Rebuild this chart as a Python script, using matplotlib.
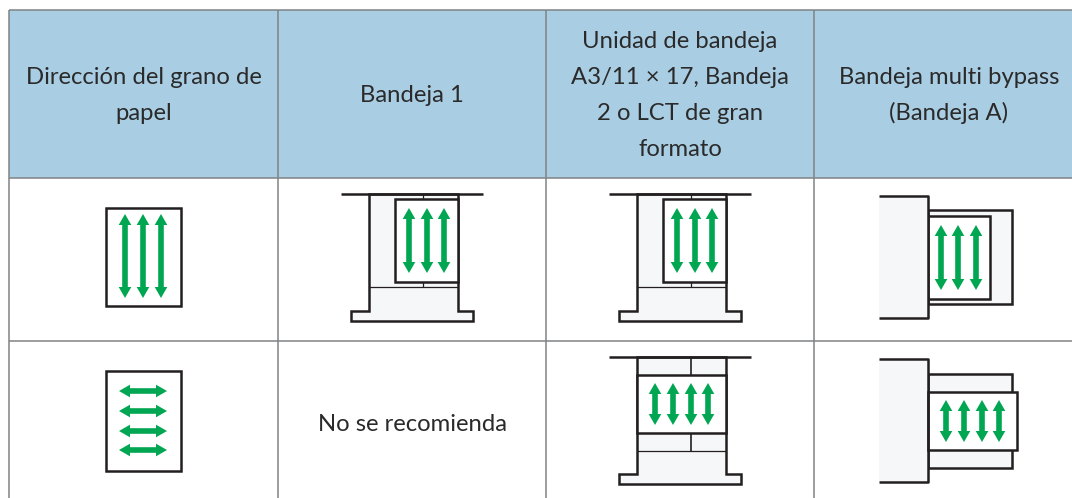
import matplotlib
matplotlib.use('Agg')
import matplotlib.pyplot as plt
from matplotlib.patches import Rectangle

plt.rcParams['font.family'] = ['Lato', 'DejaVu Sans']

# table
col_edges = [9, 278, 546, 814, 1084]
row_edges = [10, 178, 341, 510]
headers = [
    ['Dirección del grano de', 'papel'],
    ['Bandeja 1'],
    ['Unidad de bandeja', 'A3/11 × 17, Bandeja', '2 o LCT de gran', 'formato'],
    ['Bandeja multi bypass', '(Bandeja A)'],
]
not_recommended = 'No se recomienda'

# arrows: positions along the cross axis, start and end along the arrow
sheet_long_x = [125, 143, 161]
sheet_long_y = (214, 298)
sheet_wide_y = [391, 411, 431, 450]
sheet_wide_x = (119, 167)
tray1_x = [409, 427, 444]
tray1_y = (208, 273)
tray2_x = [655, 673, 691, 708]
tray2_y = (383, 425)
bypass1_x = [941, 958, 976]
bypass1_y = (225, 290)
bypass2_x = [946, 964, 982, 999]
bypass2_y = (400, 442)

INK = '#231f20'
GREEN = '#00a651'
TRAY = '#f6f7f9'
GRID = '#808285'
HEAD = '#a9cee3'
THICK = 1.8
THIN = 0.9

fig = plt.figure(figsize=(10.72, 4.98), dpi=100)
ax = fig.add_axes([0, 0, 1, 1])
ax.set_xlim(0, 1072)
ax.set_ylim(498, 0)
ax.axis('off')


def rect(x0, y0, x1, y1, fc='white', ec=INK, lw=THICK, z=2):
    ax.add_patch(Rectangle((x0, y0), x1 - x0, y1 - y0, fc=fc, ec=ec, lw=lw, zorder=z, joinstyle='miter'))


def line(xs, ys, lw=THICK, color=INK, z=3):
    ax.plot(xs, ys, color=color, lw=lw, zorder=z, solid_capstyle='butt')


def arrow(cross, a, b, vertical=True):
    # double headed arrow outline, in pixels
    hl, hw, sw = 11, 6.3, 2.8
    u = [a, a + hl, a + hl, b - hl, b - hl, b, b - hl, b - hl, a + hl, a + hl]
    v = [0, hw, sw, sw, hw, 0, -hw, -sw, -sw, -hw]
    v = [cross + k for k in v]
    if vertical:
        ax.fill(v, u, color=GREEN, lw=0, zorder=6)
    else:
        ax.fill(u, v, color=GREEN, lw=0, zorder=6)


def text_block(lines, cx, cy):
    for i, s in enumerate(lines):
        y = cy + (i - (len(lines) - 1) / 2) * 36 + 7
        ax.text(cx, y, s, ha='center', va='baseline', fontsize=17.2, color='#2b2a2b', zorder=7)


def upright_tray(dx, top, low, base_top, base_bot):
    # walls, feed plate and top bar of the tray seen from above
    ax.fill([369 + dx, 458 + dx, 458 + dx, 473 + dx, 473 + dx, 351 + dx, 351 + dx, 369 + dx],
            [top, top, base_top, base_top, base_bot, base_bot, base_top, base_top],
            fc=TRAY, ec=INK, lw=THICK, zorder=2)
    line([341 + dx, 483 + dx], [top, top])
    line([369 + dx, 458 + dx], [low, low], lw=THIN)


# header and grid
ax.add_patch(Rectangle((col_edges[0], row_edges[0]), col_edges[-1] - col_edges[0], row_edges[1] - row_edges[0],
                       fc=HEAD, ec='none', zorder=1))
for x in col_edges:
    line([x, x], [row_edges[0], row_edges[-1]], lw=1.1, color=GRID, z=1.5)
for y in row_edges[:-1]:
    line([col_edges[0], col_edges[-1]], [y, y], lw=1.1, color=GRID, z=1.5)
for i, h in enumerate(headers):
    text_block(h, (col_edges[i] + col_edges[i + 1]) / 2, 95)
text_block([not_recommended], 412, 424)

# first column, bare sheets
rect(105.5, 207.5, 181, 306)
for x in sheet_long_x:
    arrow(x, *sheet_long_y)
rect(106, 371, 181, 471)
for y in sheet_wide_y:
    arrow(y, *sheet_wide_x, vertical=False)

# bandeja 1 and bandeja 2, upper row
for dx in (0, 268):
    upright_tray(dx, 194, 287, 311, 321)
    line([423 + dx, 423 + dx], [194, 199], lw=THIN)
    line([423 + dx, 423 + dx], [282, 287], lw=THIN)
    rect(395 + dx, 199, 458 + dx, 282)
    for x in tray1_x:
        arrow(x + dx, *tray1_y)

# bandeja 2, lower row
upright_tray(268, 357, 451, 474, 484)
line([691, 691], [357, 375], lw=1.2)
line([691, 691], [433, 451], lw=1.2)
rect(637, 375, 726, 433)
for x in tray2_x:
    arrow(x, *tray2_y)

# bypass, upper row
ax.add_patch(Rectangle((879, 196), 49, 122, fc=TRAY, ec='none', zorder=3))
line([879, 928, 928, 879], [196, 196, 318, 318], z=4)
rect(928, 210, 1012, 304, fc=TRAY)
rect(928, 216, 990, 299)
for x in bypass1_x:
    arrow(x, *bypass1_y)

# bypass, lower row
ax.add_patch(Rectangle((879, 359), 49, 123, fc=TRAY, ec='none', zorder=3))
line([879, 928, 928, 879], [359, 359, 482, 482], z=4)
rect(928, 374, 1012, 468, fc=TRAY)
rect(928, 392, 1017, 450, z=3.5)
for x in bypass2_x:
    arrow(x, *bypass2_y)

fig.savefig('out.png', dpi=100)
